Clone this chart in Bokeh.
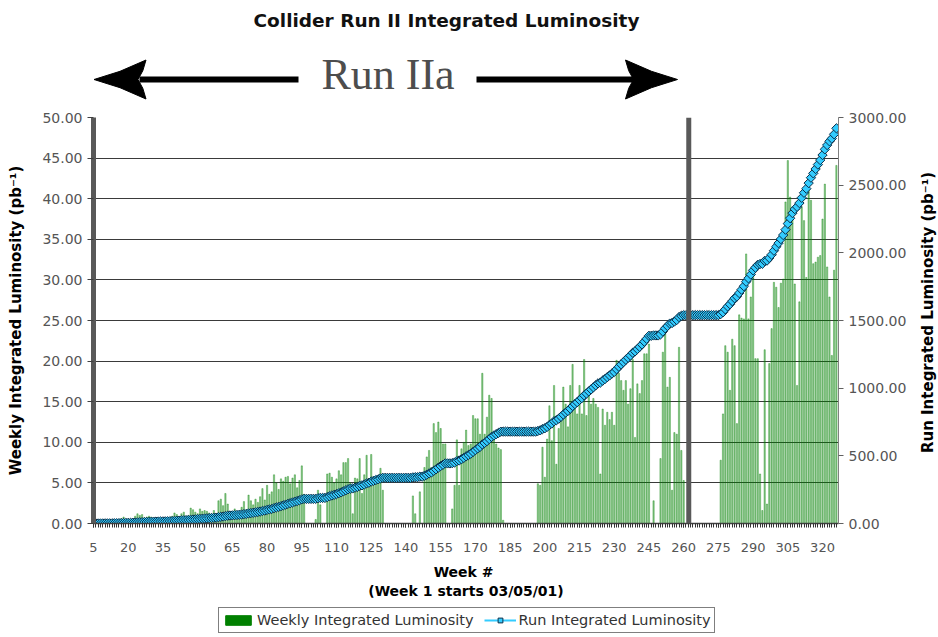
import math
from bokeh.plotting import figure
from bokeh.models import (Range1d, LinearAxis, FixedTicker, NumeralTickFormatter,
                          Span, Legend, LegendItem, ColumnDataSource, Label)
from bokeh.layouts import column, row
from bokeh.embed import file_html
from bokeh.resources import INLINE
from bokeh.core.properties import value

# ---------------- data ----------------
weeks = list(range(5, 327))

weekly_lum = [
    0.0, 0.1, 0.0, 0.2, 0.1, 0.3, 0.2, 0.1, 0.3, 0.4,          # 5-14
    0.3, 0.5, 0.6, 0.8, 0.4, 0.3, 0.5, 0.6, 0.9, 1.2,          # 15-24
    1.0, 1.1, 0.7, 0.8, 0.9, 0.8, 0.6, 0.4, 0.5, 0.3,          # 25-34
    0.4, 0.6, 0.5, 0.7, 0.9, 1.3, 1.1, 0.8, 1.2, 1.4,          # 35-44
    0.9, 1.0, 1.9, 1.7, 1.4, 1.2, 1.8, 1.5, 1.6, 1.5,          # 45-54
    1.3, 1.0, 1.6, 1.2, 2.8, 3.0, 2.2, 3.7, 2.4, 1.5,          # 55-64
    1.2, 1.8, 1.0, 1.5, 2.0, 2.7, 1.6, 3.5, 2.8, 2.3,          # 65-74
    3.0, 2.6, 3.3, 4.3, 2.9, 4.7, 3.6, 3.9, 6.0, 5.0,          # 75-84
    4.2, 5.5, 5.2, 5.7, 5.8, 4.9, 5.6, 6.0, 4.4, 5.3,          # 85-94
    7.1, 3.6, 0.0, 0.0, 0.0, 0.0, 0.5, 4.1, 2.3, 0.0,          # 95-104
    0.0, 6.1, 6.2, 5.7, 5.0, 5.5, 6.5, 6.0, 7.5, 7.5,          # 105-114
    8.0, 5.0, 1.2, 5.6, 5.5, 8.0, 3.7, 6.0, 8.4, 5.1,          # 115-124
    8.5, 5.5, 5.8, 5.2, 6.8, 4.1, 0.0, 0.0, 0.0, 0.0,          # 125-134
    0.0, 0.0, 0.0, 0.0, 0.0, 0.0, 0.0, 0.0, 3.4, 1.2,          # 135-144
    0.0, 3.9, 0.0, 6.9, 8.2, 9.0, 6.9, 12.3, 11.2, 12.5,       # 145-154
    11.7, 9.8, 9.8, 0.0, 0.0, 1.8, 4.7, 10.3, 4.7, 9.2,        # 155-164
    10.0, 11.5, 9.6, 9.8, 13.3, 12.9, 12.9, 11.0, 18.5, 11.0,  # 165-174
    13.1, 15.8, 15.4, 10.6, 9.8, 9.3, 9.1, 0.4, 0.0, 0.0,      # 175-184
    0.0, 0.0, 0.0, 0.0, 0.0, 0.0, 0.0, 0.0, 0.0, 0.0,          # 185-194
    0.0, 0.0, 4.9, 4.7, 9.4, 5.7, 10.4, 14.5, 10.2, 17.0,      # 195-204
    7.3, 11.7, 13.7, 16.8, 14.7, 11.9, 17.0, 19.6, 14.4, 13.5, # 205-214
    17.0, 13.5, 20.2, 13.3, 16.0, 14.7, 15.4, 14.7, 14.3, 6.1, # 215-224
    14.1, 12.1, 13.7, 12.8, 13.7, 12.1, 20.1, 18.5, 17.6, 16.4,  # 225-234
    17.6, 14.7, 16.6, 20.2, 10.6, 17.2, 16.0, 17.6, 20.9, 20.9,  # 235-244
    22.1, 0.0, 2.8, 0.0, 0.0, 8.0, 21.1, 23.6, 16.8, 18.0,     # 245-254
    4.1, 11.2, 11.0, 21.7, 9.0, 5.3, 0.0, 0.0, 0.0, 0.0,       # 255-264
    0.0, 0.0, 0.0, 0.0, 0.0, 0.0, 0.0, 0.0, 0.0, 0.0,          # 265-274
    0.0, 7.8, 13.5, 21.9, 21.1, 16.4, 22.7, 21.9, 12.3, 25.7,  # 275-284
    25.3, 25.2, 33.2, 25.2, 27.9, 31.0, 20.3, 20.3, 6.1, 1.6,  # 285-294
    21.4, 2.4, 19.7, 24.0, 29.7, 29.1, 26.6, 29.6, 30.1, 39.6, # 295-304
    44.7, 40.2, 37.7, 29.5, 17.0, 27.3, 39.0, 37.3, 30.3, 41.4,  # 305-314
    39.8, 32.0, 32.2, 32.8, 33.0, 37.5, 41.8, 31.6, 27.9, 20.7, 31.2, 44.1,  # 315-326
]

run_lum = [
    0.0, 0.1, 0.1, 0.3, 0.4, 0.7, 0.9, 1.0, 1.3, 1.7,
    2.0, 2.5, 3.1, 3.9, 4.3, 4.6, 5.1, 5.7, 6.6, 7.8,
    8.8, 9.9, 10.6, 11.4, 12.3, 13.1, 13.7, 14.1, 14.6, 14.9,
    15.3, 15.9, 16.4, 17.1, 18.0, 19.3, 20.4, 21.2, 22.4, 23.8,
    24.7, 25.7, 27.6, 29.3, 30.7, 31.9, 33.7, 35.2, 36.8, 38.3,
    39.6, 40.6, 42.2, 43.4, 46.2, 49.2, 51.4, 55.1, 57.5, 59.0,
    60.2, 62.0, 63.0, 64.5, 66.5, 69.2, 70.8, 74.3, 77.1, 79.4,
    82.4, 85.0, 88.3, 92.6, 95.5, 100.2, 103.8, 107.7, 113.7, 118.7,
    122.9, 128.4, 133.6, 139.3, 145.1, 150.0, 155.6, 161.6, 166.0, 171.3,
    178.4, 182.0, 182.0, 182.0, 182.0, 182.0, 182.5, 186.6, 188.9, 188.9,
    188.9, 195.0, 201.2, 206.9, 211.9, 217.4, 223.9, 229.9, 237.4, 244.9,
    252.9, 257.9, 259.1, 264.7, 270.2, 278.2, 281.9, 287.9, 296.3, 301.4,
    309.9, 315.4, 321.2, 326.4, 333.2, 337.3, 337.3, 337.3, 337.3, 337.3,
    337.3, 337.3, 337.3, 337.3, 337.3, 337.3, 337.3, 337.3, 340.7, 341.9,
    341.9, 345.8, 345.8, 352.7, 360.9, 369.9, 376.8, 389.1, 400.3, 412.8,
    424.5, 434.3, 444.1, 444.1, 444.1, 445.9, 450.6, 460.9, 465.6, 474.8,
    484.8, 496.3, 505.9, 515.7, 529.0, 541.9, 554.8, 565.8, 584.3, 595.3,
    608.4, 624.2, 639.6, 650.2, 660.0, 669.3, 678.4, 678.8, 678.8, 678.8,
    678.8, 678.8, 678.8, 678.8, 678.8, 678.8, 678.8, 678.8, 678.8, 678.8,
    678.8, 678.8, 683.7, 688.4, 697.8, 703.5, 713.9, 728.4, 738.6, 755.6,
    762.9, 774.6, 788.3, 805.1, 819.8, 831.7, 848.7, 868.3, 882.7, 896.2,
    913.2, 926.7, 946.9, 960.2, 976.2, 990.9, 1006.3, 1021.0, 1035.3, 1041.4,
    1055.5, 1067.6, 1081.3, 1094.1, 1107.8, 1119.9, 1140.0, 1158.5, 1176.1, 1192.5,
    1210.1, 1224.8, 1241.4, 1261.6, 1272.2, 1289.4, 1305.4, 1323.0, 1343.9, 1364.8,
    1386.9, 1386.9, 1389.7, 1389.7, 1389.7, 1397.7, 1418.8, 1442.4, 1459.2, 1477.2,
    1481.3, 1492.5, 1503.5, 1525.2, 1534.2, 1539.5, 1539.5, 1539.5, 1539.5, 1539.5,
    1539.5, 1539.5, 1539.5, 1539.5, 1539.5, 1539.5, 1539.5, 1539.5, 1539.5, 1539.5,
    1539.5, 1547.3, 1560.8, 1582.7, 1603.8, 1620.2, 1642.9, 1664.8, 1677.1, 1702.8,
    1728.1, 1753.3, 1786.5, 1811.7, 1839.6, 1870.6, 1890.9, 1911.2, 1917.3, 1918.9,
    1940.3, 1942.7, 1962.4, 1986.4, 2016.1, 2045.2, 2071.8, 2101.4, 2131.5, 2171.1,
    2215.8, 2256.0, 2293.7, 2323.2, 2340.2, 2367.5, 2406.5, 2443.8, 2474.1, 2515.5,
    2555.3, 2587.3, 2619.5, 2652.3, 2685.3, 2722.8, 2764.6, 2796.2, 2824.1, 2844.8, 2876.0, 2920.1,
]

assert len(weeks) == len(weekly_lum) == len(run_lum), (len(weeks), len(weekly_lum), len(run_lum))

x_tick_weeks = [5, 20, 35, 50, 65, 80, 95, 110, 125, 140, 155, 170, 185, 200,
                215, 230, 245, 260, 275, 290, 305, 320]
left_ticks = [0, 5, 10, 15, 20, 25, 30, 35, 40, 45, 50]
right_ticks = [0, 500, 1000, 1500, 2000, 2500, 3000]
run_iia_end_week = 262.2

title_text = "Collider Run II Integrated Luminosity"
run_label = "Run IIa"
bar_label = "Weekly Integrated Luminosity"
line_label = "Run Integrated Luminosity"
left_title = "Weekly Integrated Luminosity (pb\u207b\u00b9)"
right_title = "Run Integrated Luminosity (pb\u207b\u00b9)"
x_title = "Week  #\n(Week 1 starts 03/05/01)"

FONT = "DejaVu Sans"
BAR_COLOR = "#008000"
LINE_COLOR = "#33ccff"
MARK_EDGE = "#0a2f4a"

# page geometry (pixels)
LEFT, FRAME_W, RIGHT_AX, SIDE_W = 93, 745, 70, 28
TOTAL_W = LEFT + FRAME_W + RIGHT_AX + SIDE_W          # 936
HEAD_H, TOP, FRAME_H, BOTTOM, FOOT_H = 108, 9, 406, 82, 31
FRAME_TOP = HEAD_H + TOP                               # 117
FRAME_BOT = FRAME_TOP + FRAME_H                        # 523


def bare(fig):
    fig.xgrid.visible = False
    fig.ygrid.visible = False
    return fig


# ---------------- header (title + Run IIa arrows), page-pixel coordinates ----------------
h = bare(figure(frame_width=FRAME_W, frame_height=HEAD_H,
                x_range=Range1d(LEFT, LEFT + FRAME_W), y_range=Range1d(HEAD_H, 0),
                output_backend="svg", toolbar_location=None,
                x_axis_location=None, y_axis_location=None,
                min_border_left=LEFT, min_border_right=TOTAL_W - LEFT - FRAME_W,
                min_border_top=0, min_border_bottom=0, outline_line_color=None))

h.add_layout(Label(x=446, y=20, text=title_text, text_font=FONT,
                   text_font_style="bold", text_font_size="18.5px", text_color="#111111",
                   text_align="center", text_baseline="middle"))
h.add_layout(Label(x=387.5, y=74, text=run_label, text_font="Liberation Serif",
                   text_font_size="44px", text_color="#4d4d4d",
                   text_align="center", text_baseline="middle"))


def head(tip, y, s, length=52.0, half=19.5, notch=8.0):
    back = tip - s * length
    nx = back + s * notch
    xs = [tip, tip - s * length * 0.5, back, back + s * notch * 0.4, nx,
          back + s * notch * 0.4, back, tip - s * length * 0.5]
    ys = [y, y - half * 0.42, y - half, y - half * 0.45, y,
          y + half * 0.45, y + half, y + half * 0.42]
    return xs, ys


arrow_y = 79
lx, ly = head(93.5, arrow_y, -1)
rx, ry = head(677, arrow_y, 1)
h.segment(x0=[298, 476], y0=[arrow_y, arrow_y], x1=[139, 635], y1=[arrow_y, arrow_y],
          line_color="black", line_width=6)
h.patches(xs=[lx, rx], ys=[ly, ry], fill_color="black", line_color="black", line_width=1)

# ---------------- main chart ----------------
src = ColumnDataSource(dict(week=weeks, weekly=weekly_lum, run=run_lum))

p = figure(frame_width=FRAME_W, frame_height=FRAME_H,
           x_range=Range1d(5, 326.9), y_range=Range1d(0, 50),
           output_backend="svg", toolbar_location=None,
           min_border_left=LEFT, min_border_right=RIGHT_AX, min_border_top=TOP,
           min_border_bottom=BOTTOM, outline_line_color=None)
p.extra_y_ranges = {"run": Range1d(0, 3000)}

p.xgrid.grid_line_color = None
p.ygrid.grid_line_color = "#3a3a3a"
p.ygrid.grid_line_width = 1.1

p.vbar(x="week", top="weekly", bottom=0, width=0.55, source=src,
       fill_color=BAR_COLOR, fill_alpha=0.45,
       line_color=BAR_COLOR, line_width=0.5, line_alpha=0.7)
p.line(x="week", y="run", source=src, y_range_name="run",
       line_color=LINE_COLOR, line_width=2)
p.scatter(x="week", y="run", source=src, y_range_name="run",
          marker="square", angle=0.7854, size=6.6,
          fill_color=LINE_COLOR, line_color=MARK_EDGE, line_width=1)

p.add_layout(Span(location=run_iia_end_week, dimension="height",
                  line_color="#595959", line_width=5))

# left axis
ax_l = p.left[0]
ax_l.ticker = FixedTicker(ticks=left_ticks)
ax_l.formatter = NumeralTickFormatter(format="0.00")
ax_l.axis_line_width = 5
ax_l.axis_line_color = "#595959"
ax_l.major_tick_out = 6
ax_l.major_tick_in = 0
ax_l.major_tick_line_color = "#404040"
ax_l.minor_tick_line_color = None
ax_l.major_label_text_font = FONT
ax_l.major_label_text_font_size = "14px"
ax_l.major_label_text_color = "#555555"
ax_l.major_label_standoff = 5
ax_l.axis_label = left_title
ax_l.axis_label_text_font = FONT
ax_l.axis_label_text_font_style = "bold"
ax_l.axis_label_text_font_size = "15px"
ax_l.axis_label_text_color = "black"
ax_l.axis_label_standoff = 14

# right axis (its title is drawn in the side strip so that it reads bottom-to-top)
ax_r = LinearAxis(y_range_name="run", ticker=FixedTicker(ticks=right_ticks),
                  formatter=NumeralTickFormatter(format="0.00"))
ax_r.axis_line_color = "#808080"
ax_r.major_tick_out = 5
ax_r.major_tick_in = 0
ax_r.major_tick_line_color = "#606060"
ax_r.minor_tick_line_color = None
ax_r.major_label_text_font = FONT
ax_r.major_label_text_font_size = "14px"
ax_r.major_label_text_color = "#555555"
ax_r.major_label_standoff = 5
p.add_layout(ax_r, "right")

# x axis
ax_x = p.below[0]
ax_x.ticker = FixedTicker(ticks=x_tick_weeks, minor_ticks=weeks)
ax_x.axis_line_color = "#404040"
ax_x.axis_line_width = 1.5
ax_x.major_tick_out = 4
ax_x.major_tick_in = 0
ax_x.minor_tick_out = 4
ax_x.minor_tick_in = 0
ax_x.major_tick_line_color = "#333333"
ax_x.minor_tick_line_color = "#333333"
ax_x.major_label_text_font = FONT
ax_x.major_label_text_font_size = "13px"
ax_x.major_label_text_color = "#555555"
ax_x.major_label_standoff = 15
ax_x.axis_label = x_title
ax_x.axis_label_text_font = FONT
ax_x.axis_label_text_font_style = "bold"
ax_x.axis_label_text_font_size = "14px"
ax_x.axis_label_text_color = "black"
ax_x.axis_label_standoff = 9

# ---------------- side strip with the right-axis title ----------------
side_x0 = LEFT + FRAME_W + RIGHT_AX
s = bare(figure(frame_width=SIDE_W, frame_height=FRAME_H,
                x_range=Range1d(side_x0, side_x0 + SIDE_W),
                y_range=Range1d(FRAME_BOT, FRAME_TOP),
                output_backend="svg", toolbar_location=None,
                x_axis_location=None, y_axis_location=None,
                min_border_left=0, min_border_right=0, min_border_top=TOP,
                min_border_bottom=BOTTOM, outline_line_color=None))
s.text(x=[926], y=[312], text=[right_title], angle=math.pi / 2,
       text_font=value(FONT), text_font_style="bold", text_font_size="15px",
       text_color="black", text_align="center", text_baseline="middle")

# ---------------- footer holding the legend ----------------
f = bare(figure(frame_width=FRAME_W, frame_height=FOOT_H,
                x_range=Range1d(0, 1), y_range=Range1d(0, 1),
                output_backend="svg", toolbar_location=None,
                x_axis_location=None, y_axis_location=None,
                min_border_left=LEFT, min_border_right=TOTAL_W - LEFT - FRAME_W,
                min_border_top=0, min_border_bottom=0, outline_line_color=None))
# legend keys: same series styles; hidden here (only their legend swatches are shown)
key_bar = f.vbar(x="week", top="weekly", bottom=0, width=0.55, source=src,
                 fill_color=BAR_COLOR, line_color=BAR_COLOR, visible=False)
key_line = f.line(x="week", y="run", source=src, line_color=LINE_COLOR, line_width=2,
                  visible=False)
key_pts = f.scatter(x="week", y="run", source=src, marker="square", angle=0.7854, size=6.6,
                    fill_color=LINE_COLOR, line_color=MARK_EDGE, line_width=1, visible=False)

legend = Legend(items=[LegendItem(label=bar_label, renderers=[key_bar]),
                       LegendItem(label=line_label, renderers=[key_line, key_pts])],
                orientation="horizontal", location=(125, 3))
legend.border_line_color = "black"
legend.border_line_width = 1
legend.padding = 3
legend.spacing = 10
legend.margin = 0
legend.inactive_fill_alpha = 0.0
legend.label_text_font = FONT
legend.label_text_font_size = "14.5px"
legend.label_text_color = "#333333"
legend.glyph_width = 32
legend.glyph_height = 12
legend.label_height = 18
legend.label_standoff = 3
legend.background_fill_color = "white"
f.add_layout(legend, "center")

layout = column(h, row(p, s, spacing=0), f, spacing=0)
open("out.html", "w").write(file_html(layout, INLINE))
